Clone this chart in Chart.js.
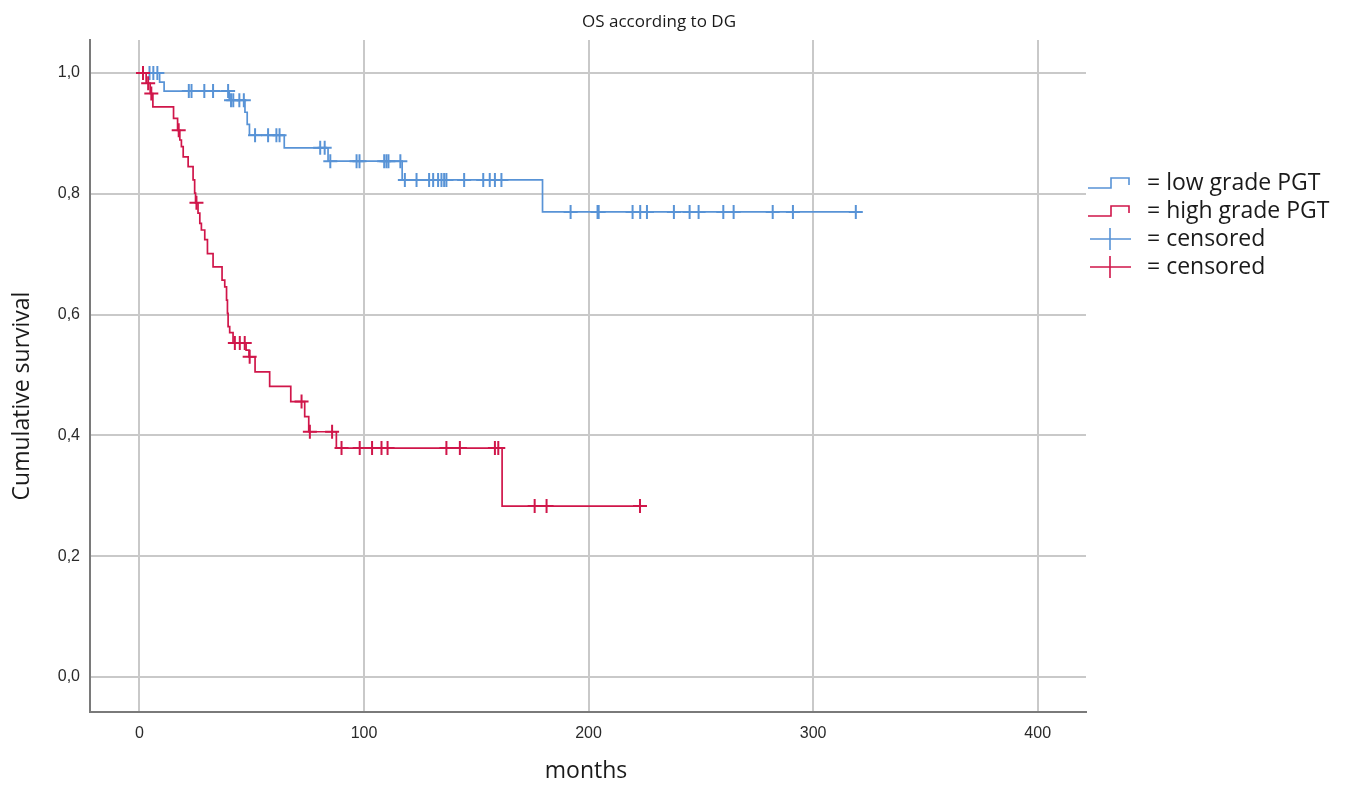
<!DOCTYPE html>
<html><head><meta charset="utf-8">
<script src="https://cdn.jsdelivr.net/npm/chart.js@4/dist/chart.umd.min.js"></script>
<style>html,body{margin:0;padding:0;background:#fff;}#wrap{width:1356px;height:787px;}</style>
</head><body><div id="wrap"><canvas id="c" width="1356" height="787"></canvas></div>
<script>
// ---- text ----
const chartTitle = 'OS according to DG';
const xAxisTitle = 'months';
const yAxisTitle = 'Cumulative survival';
const xTickValues = [0, 100, 200, 300, 400];
const yTickValues = [0, 0.2, 0.4, 0.6, 0.8, 1.0];
const legendLabels = ['= low grade PGT', '= high grade PGT', '= censored', '= censored'];

// ---- low grade PGT: event times (months) and survival after each step ----
const lowTimes    = [0, 9, 11, 40, 47, 48, 49, 64.5, 84, 117, 179.5, 319];
const lowSurvival = [1.0, 0.985, 0.970, 0.955, 0.935, 0.915, 0.897, 0.876, 0.854, 0.823, 0.770, 0.770];
const lowCensorTimes    = [4.5, 6.2, 8, 22, 23.2, 28.9, 32.8, 39.5, 40.8, 41.8, 44.5, 46.5, 51.5, 57.3, 61, 62.4, 80.5, 82.5, 85, 96.7, 98, 109, 110, 110.9, 116.2, 118.2, 123.4, 129, 130.8, 133, 134.5, 135.7, 136.7, 144.6, 153.1, 156, 158.3, 161.2, 192, 204, 204.5, 219.6, 223, 226, 238, 245, 249, 260, 264.6, 282, 291, 319];
const lowCensorSurvival = [1.0, 1.0, 1.0, 0.970, 0.970, 0.970, 0.970, 0.970, 0.955, 0.955, 0.955, 0.955, 0.897, 0.897, 0.897, 0.897, 0.876, 0.876, 0.854, 0.854, 0.854, 0.854, 0.854, 0.854, 0.854, 0.823, 0.823, 0.823, 0.823, 0.823, 0.823, 0.823, 0.823, 0.823, 0.823, 0.823, 0.823, 0.823, 0.770, 0.770, 0.770, 0.770, 0.770, 0.770, 0.770, 0.770, 0.770, 0.770, 0.770, 0.770, 0.770, 0.770];

// ---- high grade PGT ----
const highTimes    = [0, 3, 4.8, 6, 15.2, 17, 18, 18.7, 19.5, 21.7, 23.9, 24.6, 25, 26.1, 26.9, 27.6, 29.1, 30.3, 32.8, 36.8, 38, 38.8, 39.2, 39.5, 40.2, 41.7, 47.5, 48.8, 51.5, 58, 67.4, 73.6, 75.4, 87.7, 161.5, 222.9];
const highSurvival = [1.0, 0.983, 0.966, 0.944, 0.925, 0.905, 0.889, 0.878, 0.861, 0.845, 0.823, 0.801, 0.785, 0.768, 0.751, 0.740, 0.724, 0.701, 0.679, 0.657, 0.646, 0.624, 0.602, 0.580, 0.570, 0.553, 0.541, 0.530, 0.505, 0.481, 0.456, 0.431, 0.406, 0.379, 0.283, 0.283];
const highCensorTimes    = [1.6, 3.9, 5.3, 17.5, 25.4, 42.5, 44.7, 46.9, 49.1, 72.2, 75.9, 85.8, 90, 98.1, 103.6, 107.8, 110.5, 136.7, 142.7, 158.3, 159.8, 176, 181.3, 222.9];
const highCensorSurvival = [1.0, 0.983, 0.966, 0.905, 0.785, 0.553, 0.553, 0.553, 0.530, 0.456, 0.406, 0.406, 0.379, 0.379, 0.379, 0.379, 0.379, 0.379, 0.379, 0.379, 0.379, 0.283, 0.283, 0.283];

const lowColor = '#5893d6';
const highColor = '#d0164a';

const pts = (xs, ys) => xs.map((x, i) => ({x: x, y: ys[i]}));

const FONT = 'Open Sans';

const overlay = {
  id: 'overlay',
  afterDraw(chart) {
    const ctx = chart.ctx;
    ctx.save();
    ctx.fillStyle = '#1a1a1a';
    ctx.textBaseline = 'middle';
    ctx.textAlign = 'center';
    ctx.font = '17px "' + FONT + '"';
    ctx.fillText(chartTitle, 659, 22);
    ctx.font = '23px "' + FONT + '"';
    ctx.fillText(xAxisTitle, 586, 771);
    ctx.save();
    ctx.translate(22, 396);
    ctx.rotate(-Math.PI / 2);
    ctx.font = '23px "' + FONT + '"';
    ctx.fillText(yAxisTitle, 0, 0);
    ctx.restore();

    // legend
    const rows = [183, 211, 239, 267];
    const cols = [lowColor, highColor, lowColor, highColor];
    ctx.lineWidth = 1.6;
    rows.forEach((ry, i) => {
      ctx.strokeStyle = cols[i];
      ctx.beginPath();
      if (i < 2) {
        ctx.moveTo(1088, ry + 5);
        ctx.lineTo(1111, ry + 5);
        ctx.lineTo(1111, ry - 5);
        ctx.lineTo(1129, ry - 5);
        ctx.lineTo(1129, ry + 2);
      } else {
        ctx.moveTo(1090, ry);
        ctx.lineTo(1131, ry);
        ctx.moveTo(1110, ry - 11);
        ctx.lineTo(1110, ry + 11);
      }
      ctx.stroke();
      ctx.fillStyle = '#1a1a1a';
      ctx.textAlign = 'left';
      ctx.font = '23px "' + FONT + '"';
      ctx.fillText(legendLabels[i], 1147, ry);
    });
    ctx.restore();
  }
};

new Chart(document.getElementById('c'), {
  type: 'line',
  data: {
    datasets: [
      {data: pts(lowTimes, lowSurvival), borderColor: lowColor, borderWidth: 1.7, stepped: 'before', pointRadius: 0, fill: false, order: 4},
      {data: pts(highTimes, highSurvival), borderColor: highColor, borderWidth: 1.7, stepped: 'before', pointRadius: 0, fill: false, order: 2},
      {type: 'scatter', data: pts(lowCensorTimes, lowCensorSurvival), pointStyle: 'cross', pointRadius: 7, borderColor: lowColor, pointBorderWidth: 2, backgroundColor: lowColor, showLine: false, order: 3},
      {type: 'scatter', data: pts(highCensorTimes, highCensorSurvival), pointStyle: 'cross', pointRadius: 7, borderColor: highColor, pointBorderWidth: 2, backgroundColor: highColor, showLine: false, order: 1}
    ]
  },
  options: {
    responsive: false,
    animation: false,
    events: [],
    layout: {padding: {left: 0, right: 270, top: 40, bottom: 0}},
    plugins: {legend: {display: false}, title: {display: false}, tooltip: {enabled: false}},
    scales: {
      x: {
        type: 'linear', min: -22, max: 421.5,
        afterBuildTicks: s => { s.ticks = xTickValues.map(v => ({value: v})); },
        afterFit: s => { s.height = 75; },
        grid: {color: '#c9c9c9', lineWidth: 2, drawTicks: false},
        border: {display: true, color: '#7a7a7a', width: 2},
        ticks: {padding: 12, color: '#2a2a2a', font: {family: 'Liberation Sans', size: 16}, callback: v => String(v), maxRotation: 0}
      },
      y: {
        type: 'linear', min: -0.058, max: 1.0546,
        afterBuildTicks: s => { s.ticks = yTickValues.map(v => ({value: v})); },
        afterFit: s => { s.width = 90; },
        grid: {color: '#c9c9c9', lineWidth: 2, drawTicks: false},
        border: {display: true, color: '#7a7a7a', width: 2},
        ticks: {padding: 10, color: '#2a2a2a', font: {family: 'Liberation Sans', size: 16}, callback: v => v.toFixed(1).replace('.', ',')}
      }
    }
  },
  plugins: [overlay]
});
</script>
</body></html>
